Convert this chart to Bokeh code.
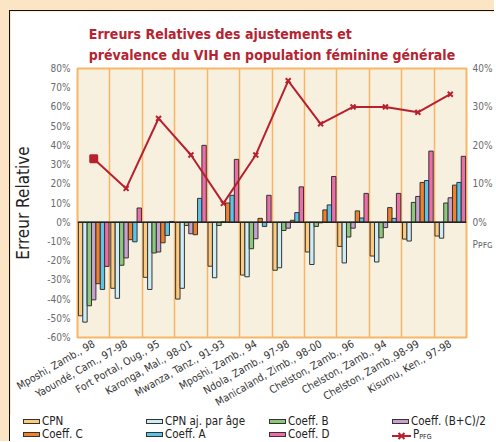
import math
from bokeh.plotting import figure
from bokeh.models import (Range1d, LinearAxis, FixedTicker, PrintfTickFormatter, Span,
                          ColumnDataSource, Column, Div)
from bokeh.transform import dodge
from bokeh.embed import file_html
from bokeh.resources import INLINE

sites = ["Mposhi, Zamb., 98", "Yaoundé, Cam., 97-98", "Fort Portal, Oug., 95",
         "Karonga, Mal., 98-01", "Mwanza, Tanz., 91-93", "Mposhi, Zamb., 94",
         "Ndola, Zamb., 97-98", "Manicaland, Zimb., 98-00", "Chelston, Zamb., 96",
         "Chelston, Zamb., 94", "Chelston, Zamb.,98-99", "Kisumu, Ken., 97-98"]

cpn      = [-48.7, -34.4, -28.7, -40.0, -22.9, -27.5, -25.0, -15.5, -12.6, -17.6, -8.8, -7.2]
cpn_age  = [-52.0, -39.6, -35.0, -34.4, -28.9, -28.4, -23.7, -22.0, -21.2, -20.7, -9.8, -8.3]
coeff_b  = [-43.5, -22.4, -16.0, -1.7, -1.7, -13.8, -4.3, -2.2, -7.7, -8.1, 10.3, 10.0]
coeff_bc = [-40.4, -18.6, -15.5, -6.0, 0.2, -8.6, -3.1, -0.3, -3.1, -2.8, 13.4, 12.7]
coeff_c  = [-32.0, -9.1, -10.7, -6.5, 10.0, 2.0, 1.0, 6.4, 5.9, 7.6, 20.7, 19.3]
coeff_a  = [-35.0, -10.2, -6.9, 12.4, 14.0, -2.2, 5.0, 9.0, 2.2, 2.0, 21.7, 20.7]
coeff_d  = [-23.0, 7.4, 0.4, 40.0, 32.7, 14.0, 18.4, 23.8, 15.0, 15.0, 37.0, 34.3]
p_pfg    = [16.5, 8.8, 27.0, 17.5, 4.9, 17.5, 36.8, 25.6, 30.0, 30.0, 28.6, 33.3]

left_ticks = [-60, -50, -40, -30, -20, -10, 0, 10, 20, 30, 40, 50, 60, 70, 80]
right_ticks = [0, 10, 20, 30, 40]
right_name_tick = -5.7
right_name = "P\u1d18\ua730\u0262"

series = [
    ("CPN", "cpn", cpn, "#FDCB80"),
    ("CPN aj. par âge", "cpn_age", cpn_age, "#CDEDF7"),
    ("Coeff. B", "coeff_b", coeff_b, "#8DC77A"),
    ("Coeff. (B+C)/2", "coeff_bc", coeff_bc, "#C8A2CE"),
    ("Coeff. C", "coeff_c", coeff_c, "#F0802A"),
    ("Coeff. A", "coeff_a", coeff_a, "#5BC4E8"),
    ("Coeff. D", "coeff_d", coeff_d, "#EE6CA7"),
]
LINE_COLOR = "#B8202E"
FONT = "DejaVu Sans Condensed"
BG = "#FBE5C4"
FRAME_BG = "#F7F0DF"
ORANGE = "#F9B566"

n = len(sites)
centers = [i + 0.5 for i in range(n)]
data = {"x": centers, "p_pfg": p_pfg, "marker": ["square"] + ["x"] * (n - 1)}
for _, key, vals, _ in series:
    data[key] = vals
src = ColumnDataSource(data)

p = figure(x_range=Range1d(0, n), y_range=Range1d(-60, 80),
           width=485, height=405, output_backend="svg", toolbar_location=None,
           min_border_left=63, min_border_right=27, min_border_top=57, min_border_bottom=76)
p.background_fill_color = FRAME_BG
p.border_fill_color = "white"
p.outline_line_color = ORANGE
p.outline_line_width = 2

p.title.text = "Erreurs Relatives des ajustements et\nprévalence du VIH en population féminine générale"
p.title.align = "center"
p.title.offset = -9
p.title.text_color = "#B52431"
p.title.text_font = FONT
p.title.text_font_size = "14px"
p.title.text_font_style = "bold"
p.title.text_line_height = 1.35
p.title.standoff = 10

p.extra_y_ranges = {"right": Range1d(-30, 40)}

bw = 0.135
for k, (name, key, vals, color) in enumerate(series):
    p.vbar(x=dodge("x", (k - 3) * bw), top=key, bottom=0,
           width=bw, source=src, fill_color=color, line_color="#333333", line_width=1)

p.add_layout(Span(location=0, dimension="width", line_color="#222222", line_width=1.5))

p.line(x="x", y="p_pfg", source=src, y_range_name="right",
       line_color=LINE_COLOR, line_width=2)
p.scatter(x="x", y="p_pfg", source=src, y_range_name="right", marker="marker",
          size=7, line_color=LINE_COLOR, fill_color=LINE_COLOR, line_width=2)

# grids
p.ygrid.grid_line_color = None
p.xgrid.ticker = FixedTicker(ticks=list(range(1, n)))
p.xgrid.grid_line_color = ORANGE
p.xgrid.grid_line_width = 1.5

def plain(ax):
    ax.axis_line_color = None
    ax.major_tick_line_color = None
    ax.minor_tick_line_color = None
    ax.major_tick_out = 0
    ax.major_tick_in = 0
    ax.minor_tick_out = 0
    ax.minor_tick_in = 0

# left axis
yax = p.yaxis[0]
plain(yax)
yax.ticker = FixedTicker(ticks=left_ticks)
yax.formatter = PrintfTickFormatter(format="%d%%")
yax.major_label_text_font = FONT
yax.major_label_text_font_size = "10px"
yax.major_label_text_color = "#6A6A6A"
yax.major_label_standoff = 7
yax.axis_label = "Erreur Relative"
yax.axis_label_text_font = FONT
yax.axis_label_text_font_size = "17px"
yax.axis_label_text_font_style = "normal"
yax.axis_label_text_color = "#222222"
yax.axis_label_standoff = 11

# right axis
rax = LinearAxis(y_range_name="right", ticker=FixedTicker(ticks=right_ticks + [right_name_tick]),
                 formatter=PrintfTickFormatter(format="%d%%"),
                 major_label_overrides={right_name_tick: right_name})
plain(rax)
rax.major_label_text_font = FONT
rax.major_label_text_font_size = "10px"
rax.major_label_text_color = "#6A6A6A"
rax.major_label_standoff = 6
p.add_layout(rax, "right")

# x axis
xax = p.xaxis[0]
plain(xax)
xax.ticker = FixedTicker(ticks=centers)
xax.major_label_overrides = {c: s for c, s in zip(centers, sites)}
xax.major_label_orientation = math.radians(30)
xax.major_label_text_font = FONT
xax.major_label_text_font_size = "10.5px"
xax.major_label_text_color = "#333333"
xax.major_label_standoff = 5

# legend strip (HTML, built from the series list)
cells = []
legend_entries = [(name, color) for name, _, _, color in series] + \
                 [("P<sub style='font-size:7px;vertical-align:-1px'>PFG</sub>", None)]
for i, (name, color) in enumerate(legend_entries):
    col, row = i % 4, i // 4
    if color is None:
        swatch = ("<svg width='19' height='10' style='vertical-align:middle'>"
                  f"<line x1='0' y1='5' x2='19' y2='5' stroke='{LINE_COLOR}' stroke-width='2'/>"
                  f"<path d='M6.5 2 L12.5 8 M12.5 2 L6.5 8' stroke='{LINE_COLOR}' stroke-width='2'/></svg>")
    else:
        swatch = (f"<span style='display:inline-block;width:17px;height:5px;background:{color};"
                  "border:1px solid #333;vertical-align:middle'></span>")
    cells.append(f"<div style='position:absolute;left:{13 + col * 123}px;top:{row * 13}px;"
                 f"height:13px;line-height:13px;white-space:nowrap;'>{swatch}"
                 f"<span style='margin-left:2px;vertical-align:middle'>{name}</span></div>")
html = (f"<div style=\"position:relative;width:485px;height:26px;overflow:hidden;"
        f"font-family:'{FONT}';font-size:11.5px;color:#222;\">" + "".join(cells) + "</div>")
leg = Div(text=html, width=485, height=26, margin=(0, 0, 0, 0),
          styles={"background-color": "white", "border-left": "1px solid #111111"})

p.styles = {"border-left": "1px solid #111111", "border-top": "1px solid #111111"}
root = Column(children=[p, leg], spacing=0,
              styles={"background-color": BG, "padding": "10px 0px 0px 9px"})

open("out.html", "w").write(file_html(root, INLINE))
